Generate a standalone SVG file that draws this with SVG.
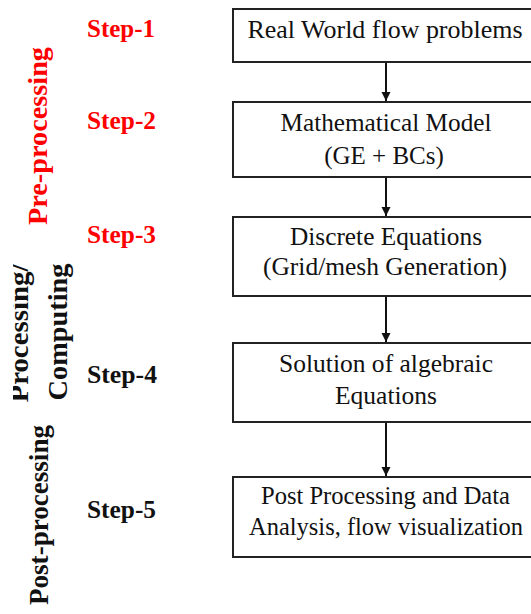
<svg xmlns="http://www.w3.org/2000/svg" width="531" height="614" viewBox="0 0 531 614">
<style>
.box{fill:#fff;stroke:#222;stroke-width:2}
.bt{font-family:"Liberation Serif","Times New Roman",serif;font-size:25px;fill:#111;text-anchor:middle}
.step{font-family:"Liberation Serif","Times New Roman",serif;font-size:25px;font-weight:bold}
.vert{font-family:"Liberation Serif","Times New Roman",serif;font-size:28px;font-weight:bold;text-anchor:middle}
.red{fill:#ff0000}
.blk{fill:#111}
.conn{stroke:#111;stroke-width:2;fill:none;marker-end:url(#ah)}
</style>
<defs>
<marker id="ah" markerWidth="10" markerHeight="10" refX="9" refY="5" orient="auto" markerUnits="userSpaceOnUse">
<path d="M0,0.5 L9,5 L0,9.5 Z" fill="#111"/>
</marker>
<clipPath id="clipL"><rect x="13" y="0" width="60" height="614"/></clipPath>
</defs>
<rect width="531" height="614" fill="#fff"/>

<g id="labels">
<text class="step red" x="87" y="37" textLength="68" lengthAdjust="spacingAndGlyphs">Step-1</text>
<text class="step red" x="87" y="129" textLength="69" lengthAdjust="spacingAndGlyphs">Step-2</text>
<text class="step red" x="87" y="243" textLength="69" lengthAdjust="spacingAndGlyphs">Step-3</text>
<text class="step blk" x="87" y="383" textLength="70" lengthAdjust="spacingAndGlyphs">Step-4</text>
<text class="step blk" x="87" y="518" textLength="69" lengthAdjust="spacingAndGlyphs">Step-5</text>
<text class="vert red" transform="translate(47,136) rotate(-90)" textLength="178" lengthAdjust="spacingAndGlyphs">Pre-processing</text>
<g clip-path="url(#clipL)">
<text class="vert blk" transform="translate(28,333) rotate(-90)" textLength="139" lengthAdjust="spacingAndGlyphs">Processing/</text>
</g>
<text class="vert blk" transform="translate(67,332) rotate(-90)" textLength="137" lengthAdjust="spacingAndGlyphs">Computing</text>
<text class="vert blk" transform="translate(48,515) rotate(-90)" textLength="180" lengthAdjust="spacingAndGlyphs">Post-processing</text>
</g>

<g id="connectors">
<line class="conn" x1="386" y1="63" x2="386" y2="101"/>
<line class="conn" x1="386" y1="177" x2="386" y2="216"/>
<line class="conn" x1="386" y1="296" x2="386" y2="342"/>
<line class="conn" x1="386" y1="423" x2="386" y2="476"/>
</g>

<g id="n1">
<rect class="box" x="233" y="9" width="310" height="53"/>
<text class="bt" x="385" y="38" textLength="275" lengthAdjust="spacingAndGlyphs">Real World flow problems</text>
</g>
<g id="n2">
<rect class="box" x="233" y="102" width="310" height="75"/>
<text class="bt" x="386" y="131" textLength="211" lengthAdjust="spacingAndGlyphs">Mathematical Model</text>
<text class="bt" x="384" y="164">(GE + BCs)</text>
</g>
<g id="n3">
<rect class="box" x="233" y="217" width="310" height="79"/>
<text class="bt" x="386" y="245" textLength="192" lengthAdjust="spacingAndGlyphs">Discrete Equations</text>
<text class="bt" x="385" y="275" textLength="244" lengthAdjust="spacingAndGlyphs">(Grid/mesh Generation)</text>
</g>
<g id="n4">
<rect class="box" x="233" y="343" width="310" height="79"/>
<text class="bt" x="386" y="372" textLength="214" lengthAdjust="spacingAndGlyphs">Solution of algebraic</text>
<text class="bt" x="386" y="404" textLength="102" lengthAdjust="spacingAndGlyphs">Equations</text>
</g>
<g id="n5">
<rect class="box" x="233" y="477" width="310" height="80"/>
<text class="bt" x="385.5" y="504" textLength="249" lengthAdjust="spacingAndGlyphs">Post Processing and Data</text>
<text class="bt" x="386" y="535" textLength="274" lengthAdjust="spacingAndGlyphs">Analysis, flow visualization</text>
</g>
</svg>
